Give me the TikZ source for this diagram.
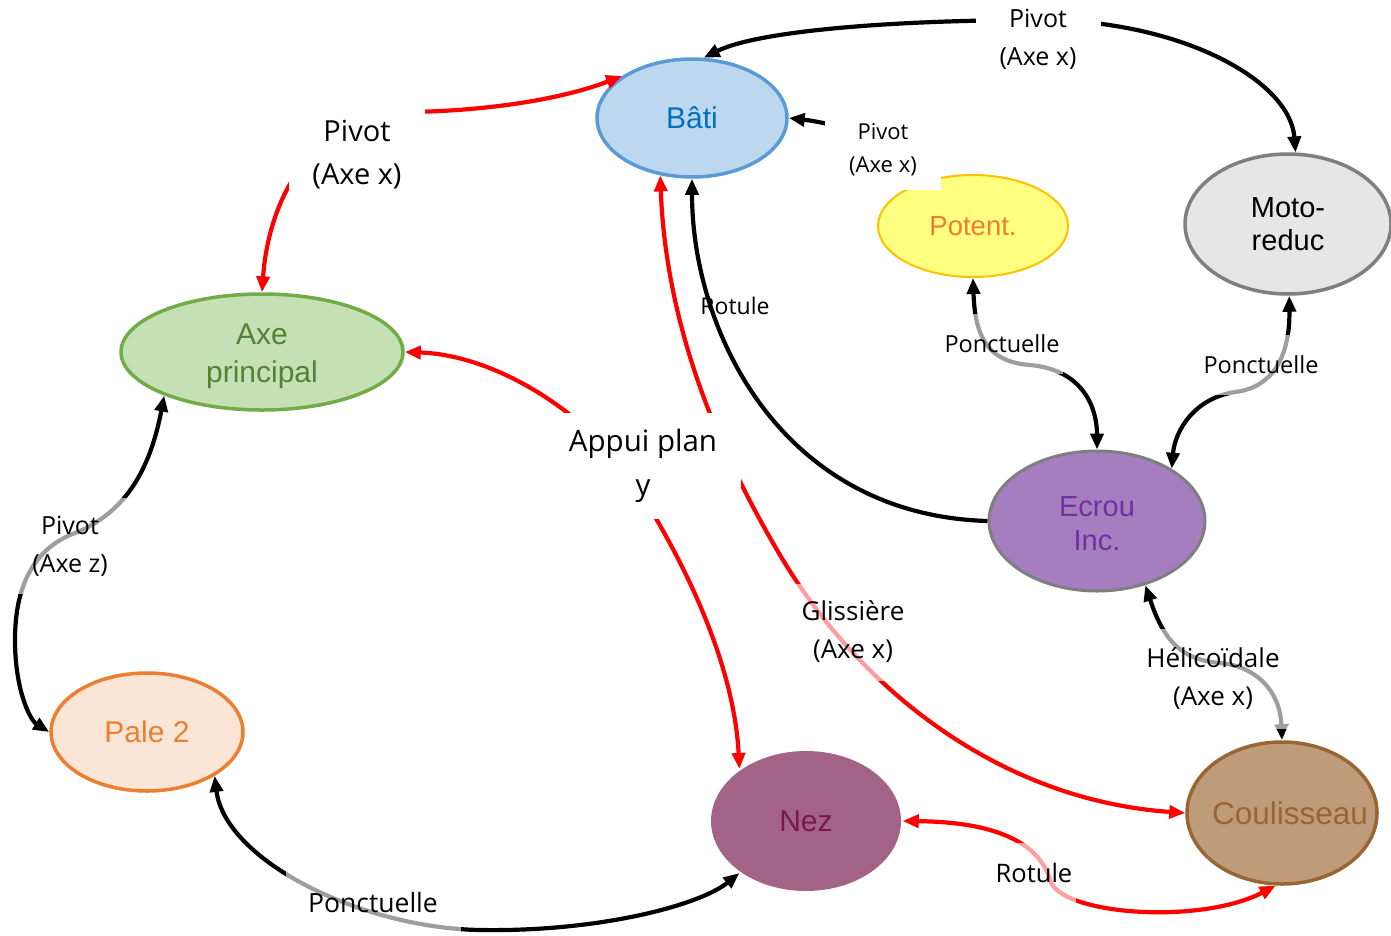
\documentclass[tikz,border=0pt]{standalone}
\usepackage{fontspec}
\setmainfont{Liberation Sans}
\newfontfamily\lblfont{Open Sans}
\usetikzlibrary{shapes.geometric,arrows.meta}

\definecolor{batiF}{HTML}{BDD7EE}\definecolor{batiD}{HTML}{5B9BD5}\definecolor{batiT}{HTML}{0070C0}
\definecolor{axeF}{HTML}{C5E0B4}\definecolor{axeD}{HTML}{70AD47}\definecolor{axeT}{HTML}{548235}
\definecolor{potF}{HTML}{FFFF80}\definecolor{potD}{HTML}{FFC000}\definecolor{potT}{HTML}{ED7D31}
\definecolor{motF}{HTML}{E7E6E6}\definecolor{motD}{HTML}{7F7F7F}
\definecolor{ecrF}{HTML}{A57EC0}\definecolor{ecrT}{HTML}{7030A0}
\definecolor{palF}{HTML}{FBE5D6}\definecolor{palD}{HTML}{ED7D31}
\definecolor{nezF}{HTML}{A36386}\definecolor{nezT}{HTML}{7A1650}
\definecolor{couF}{HTML}{BE9C7A}\definecolor{couD}{HTML}{996633}
\definecolor{lred}{HTML}{FF0000}

\tikzset{
  part/.style={ellipse, inner sep=0pt, align=center, line width=3.5pt,
    font=\fontsize{30}{38}\selectfont},
  link/.style={line width=4.2pt},
  redlink/.style={link, draw=lred},
  blklink/.style={link, draw=black},
  lbl/.style 2 args={font=\lblfont\fontsize{#1}{#2}\selectfont, align=center,
    inner sep=0pt, text=black},
  solidbox/.style={fill=white},
  veilbox/.style={fill=white, fill opacity=0.62, text opacity=1},
}

\begin{document}
\begin{tikzpicture}[x=1pt, y=-1pt, >={Triangle[length=16pt,width=13pt]}]
\useasboundingbox (0,0) rectangle (1391,935);

% parts of the mechanism
\node[part, fill=batiF, draw=batiD, text=batiT, minimum width=190pt, minimum height=118pt] (bati) at (692,118) {Bâti};
\node[part, fill=axeF, draw=axeD, minimum width=282pt, minimum height=116pt,
      label={[text=axeT, align=center, inner sep=0pt, font=\fontsize{30}{38}\selectfont, yshift=-4pt]center:{Axe\\principal}}] (axe) at (262,352) {};
\node[part, fill=potF, draw=potD, text=potT, line width=2pt, minimum width=190pt, minimum height=102pt,
      font=\fontsize{27.5}{33}\selectfont] (pot) at (973,226) {Potent.};
\node[part, fill=motF, draw=motD, text=black, minimum width=206pt, minimum height=140pt,
      font=\fontsize{29}{33}\selectfont] (moto) at (1288,224) {Moto-\\reduc};
\node[part, fill=ecrF, draw=motD, line width=3pt, minimum width=216pt, minimum height=140pt,
      label={[text=ecrT, align=center, inner sep=0pt, font=\fontsize{29}{34}\selectfont, yshift=-3pt]center:{Ecrou\\Inc.}}] (ecrou) at (1097,521) {};
\node[part, fill=palF, draw=palD, text=palD, minimum width=192pt, minimum height=118pt] (pale) at (147,732) {Pale 2};
\node[part, fill=nezF, text=nezT, minimum width=190pt, minimum height=140pt] (nez) at (806,821) {Nez};
\node[part, fill=couF, draw=couD, text=couD, minimum width=190pt, minimum height=142pt,
      font=\fontsize{31.5}{36}\selectfont] (coul) at (1282,813) {\makebox[0pt][c]{\kern16pt Coulisseau}};

% joints (connectors)
\draw[blklink, <->] (bati.79) .. controls (760,30) and (900,20) .. (1040,20)
               .. controls (1180,20) and (1290,80) .. (moto.84);
\draw[redlink, <->] (bati.149) .. controls (560,100) and (480,112) .. (400,112)
               .. controls (330,112) and (270,180) .. (axe.north);
\draw[blklink, <->] (bati.east) .. controls (850,125) and (900,150) .. (pot.140);
\draw[blklink, <-] (bati.south) .. controls (692,330) and (780,515) .. (ecrou.west);
\draw[blklink, <->] (pot.south) .. controls (975,340) and (990,362) .. (1030,365)
               .. controls (1085,370) and (1097,410) .. (ecrou.north);
\draw[blklink, <->] (moto.271) .. controls (1290,360) and (1270,388) .. (1235,392)
               .. controls (1195,398) and (1175,430) .. (ecrou.35);
\draw[blklink, <->] (axe.204) .. controls (150,470) and (125,515) .. (70,535)
               .. controls (25,555) and (15,600) .. (15,640)
               .. controls (15,690) and (30,720) .. (pale.west);
\draw[blklink, <->] (pale.-33) .. controls (225,860) and (360,928) .. (480,930)
               .. controls (600,932) and (700,905) .. (nez.-142);
\draw[redlink, <->] (axe.east) .. controls (500,355) and (600,420) .. (645,500)
               .. controls (700,590) and (735,680) .. (nez.142);
\draw[redlink, <->] (bati.241) .. controls (665,300) and (700,420) .. (780,555)
               .. controls (860,690) and (1000,800) .. (coul.west);
\draw[redlink, <->] (nez.east) .. controls (1000,822) and (1040,845) .. (1050,880)
               .. controls (1060,915) and (1200,925) .. (coul.265);
\draw[blklink, <->] (ecrou.-53) .. controls (1165,645) and (1185,660) .. (1220,663)
               .. controls (1255,666) and (1280,690) .. (coul.north);

% joint names
\node[lbl={25}{38}, solidbox, minimum width=125pt, minimum height=76pt] (lTop) at (1038,39) {Pivot\\(Axe x)};
\node[lbl={29}{43}, solidbox, minimum width=136pt, minimum height=98pt] (lAxe) at (357,155) {Pivot\\(Axe x)};
\node[lbl={22}{33}, solidbox, minimum width=116pt, minimum height=80pt] (lPot) at (883,150) {Pivot\\(Axe x)};
\node[lbl={23}{34}] (lRot) at (735,306) {Rotule};
\node[lbl={23.5}{34}, veilbox, minimum width=122pt, minimum height=60pt] (lPonA) at (1002,344) {Ponctuelle};
\node[lbl={23.5}{34}, veilbox, minimum width=122pt, minimum height=60pt] (lPonB) at (1261,365) {Ponctuelle};
\node[lbl={25}{38}, veilbox, minimum width=114pt, minimum height=96pt] (lPz) at (70,546) {Pivot\\(Axe z)};
\node[lbl={26.5}{38}, veilbox, minimum width=175pt, minimum height=64pt] (lPonC) at (373,903) {Ponctuelle};
\node[lbl={29.5}{44}, solidbox, minimum width=195pt, minimum height=106pt] (lApp) at (643,466) {Appui plan\\y};
\node[lbl={26}{38}, veilbox, minimum width=130pt, minimum height=97pt] (lGli) at (853,632) {Glissière\\(Axe x)};
\node[lbl={26}{38}, veilbox, minimum width=150pt, minimum height=100pt] (lHel) at (1213,679) {Hélicoïdale\\(Axe x)};
\node[lbl={25.5}{38}, veilbox, minimum width=84pt, minimum height=60pt] (lRot2) at (1034,873) {Rotule};
\end{tikzpicture}
\end{document}
